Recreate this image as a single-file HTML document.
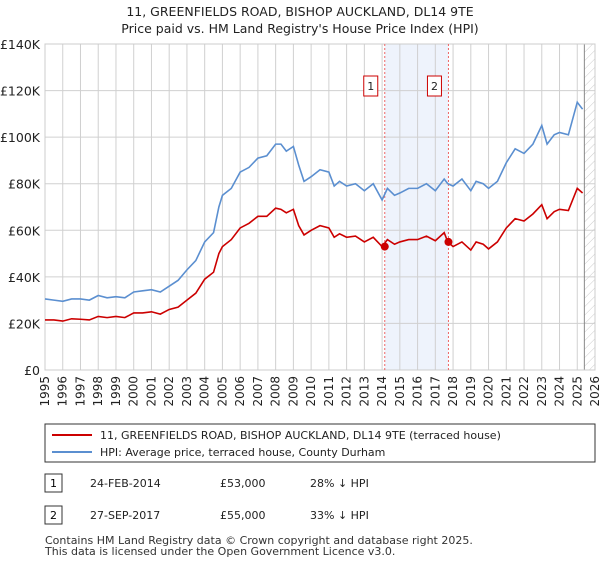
<!DOCTYPE html>
<html><head><meta charset="utf-8"><style>
body{margin:0;background:#fff;font-family:"Liberation Sans","DejaVu Sans",sans-serif;}
svg text{font-family:"DejaVu Sans","Liberation Sans",sans-serif;}
</style></head><body>
<svg id="c" width="600" height="560" xmlns="http://www.w3.org/2000/svg">
<defs><pattern id="hatch" width="6" height="6" patternUnits="userSpaceOnUse" patternTransform="rotate(45)"><line x1="0" y1="0" x2="0" y2="6" stroke="#ccc" stroke-width="1"/></pattern></defs>
<text x="300" y="16" text-anchor="middle" font-size="12.5" fill="#222">11, GREENFIELDS ROAD, BISHOP AUCKLAND, DL14 9TE</text>
<text x="300" y="33" text-anchor="middle" font-size="12.5" fill="#222">Price paid vs. HM Land Registry's House Price Index (HPI)</text>
<g id="grid"></g><g id="marks"></g><g id="axes"></g>
<rect x="45" y="424" width="550" height="38" fill="#fff" stroke="#333"/>
<line x1="52" y1="435" x2="92" y2="435" stroke="#cc0000" stroke-width="2"/>
<text x="100" y="439" font-size="11" fill="#222">11, GREENFIELDS ROAD, BISHOP AUCKLAND, DL14 9TE (terraced house)</text>
<line x1="52" y1="452" x2="92" y2="452" stroke="#5b8fd0" stroke-width="2"/>
<text x="100" y="456" font-size="11" fill="#222">HPI: Average price, terraced house, County Durham</text>
<g>
<rect x="45" y="474" width="17" height="18" fill="#fff" stroke="#333"/><text x="53.5" y="487" text-anchor="middle" font-size="11">1</text>
<text x="90" y="487" font-size="11" fill="#222">24-FEB-2014</text><text x="220" y="487" font-size="11" fill="#222">£53,000</text><text x="310" y="487" font-size="11" fill="#222">28% ↓ HPI</text></g>
<g>
<rect x="45" y="506" width="17" height="18" fill="#fff" stroke="#333"/><text x="53.5" y="519" text-anchor="middle" font-size="11">2</text>
<text x="90" y="519" font-size="11" fill="#222">27-SEP-2017</text><text x="220" y="519" font-size="11" fill="#222">£55,000</text><text x="310" y="519" font-size="11" fill="#222">33% ↓ HPI</text></g>
<text x="45" y="544" font-size="11" fill="#333">Contains HM Land Registry data © Crown copyright and database right 2025.</text>
<text x="45" y="555" font-size="11" fill="#333">This data is licensed under the Open Government Licence v3.0.</text>
</svg>
<script>
const years=[1995,1995.5,1996,1996.5,1997,1997.5,1998,1998.5,1999,1999.5,2000,2000.5,2001,2001.5,2002,2002.5,2003,2003.5,2004,2004.5,2004.8,2005,2005.5,2006,2006.5,2007,2007.5,2008,2008.3,2008.6,2009,2009.3,2009.6,2010,2010.5,2011,2011.3,2011.6,2012,2012.5,2013,2013.5,2014,2014.3,2014.7,2015,2015.5,2016,2016.5,2017,2017.5,2017.7,2018,2018.5,2019,2019.3,2019.7,2020,2020.5,2021,2021.5,2022,2022.5,2023,2023.3,2023.7,2024,2024.5,2025,2025.3];
const hpi=[30.5,30,29.5,30.5,30.5,30,32,31,31.5,31,33.5,34,34.5,33.5,36,38.5,43,47,55,59,70,75,78,85,87,91,92,97,97,94,96,88,81,83,86,85,79,81,79,80,77,80,73,78,75,76,78,78,80,77,82,80,79,82,77,81,80,78,81,89,95,93,97,105,97,101,102,101,115,112];
const price=[21.5,21.5,21,22,21.8,21.5,23,22.5,23,22.5,24.5,24.5,25,24,26,27,30,33,39,42,50,53,56,61,63,66,66,69.5,69,67.5,69,62,58,60,62,61,57,58.5,57,57.5,55,57,53,56,54,55,56,56,57.5,55.5,59,55,53,55,51.5,55,54,52,55,61,65,64,67,71,65,68,69,68.5,78,76];
const sales=[{t:2014.15,v:53,label:"1"},{t:2017.74,v:55,label:"2"}];
const yTicks=[0,20,40,60,80,100,120,140];
const xTicks=[];for(let y=1995;y<=2026;y++)xTicks.push(y);
const X0=45,X1=595,Y0=370,Y1=44;
const sx=t=>X0+(t-1995)/31*(X1-X0);
const sy=v=>Y0-v/140*(Y0-Y1);
const NS="http://www.w3.org/2000/svg";
function mk(tag,attrs,parent){const e=document.createElementNS(NS,tag);for(const k in attrs)e.setAttribute(k,attrs[k]);parent.appendChild(e);return e;}
const grid=document.getElementById('grid'),marks=document.getElementById('marks'),axes=document.getElementById('axes');
// shaded band
const band=mk('rect',{x:sx(sales[0].t),y:Y1,width:sx(sales[1].t)-sx(sales[0].t),height:Y0-Y1,fill:'#eef3fc'},grid);


xTicks.forEach(y=>{const l=mk('line',{x1:sx(y),x2:sx(y),y1:Y1,y2:Y0,stroke:'#d0d0d0'},grid);


const t=mk('text',{x:0,y:0,'font-size':12,fill:'#222','text-anchor':'end',transform:`translate(${sx(y)+4},${Y0+6}) rotate(-90)`},axes);t.textContent=y;

});
yTicks.forEach(v=>{const l=mk('line',{x1:X0,x2:X1,y1:sy(v),y2:sy(v),stroke:'#d0d0d0'},grid);


const t=mk('text',{x:40,y:sy(v)+5,'font-size':12.5,fill:'#222','text-anchor':'end'},axes);t.textContent=v===0?'£0':'£'+v+'K';

});
const h=mk('rect',{x:sx(2025.4),y:Y1,width:X1-sx(2025.4),height:Y0-Y1,fill:'url(#hatch)'},grid);


mk('line',{x1:sx(2025.4),x2:sx(2025.4),y1:Y1,y2:Y0,stroke:'#888'},grid);
mk('rect',{x:X0,y:Y1,width:X1-X0,height:Y0-Y1,fill:'none',stroke:'#ccc'},grid);
sales.forEach(s=>{const l=mk('line',{x1:sx(s.t),x2:sx(s.t),y1:Y1,y2:Y0,stroke:'#e66','stroke-dasharray':'2,2'},marks);

});
const hl=mk('polyline',{points:years.map((t,i)=>sx(t)+','+sy(hpi[i])).join(' '),fill:'none',stroke:'#5b8fd0','stroke-width':1.6},marks);


const pl=mk('polyline',{points:years.map((t,i)=>sx(t)+','+sy(price[i])).join(' '),fill:'none',stroke:'#cc0000','stroke-width':1.6},marks);


sales.forEach(s=>{const c=mk('circle',{cx:sx(s.t),cy:sy(s.v),r:4,fill:'#cc0000'},marks);


const g=mk('g',{},marks);


mk('rect',{x:sx(s.t)-21,y:76,width:14,height:20,fill:'#fff',stroke:'#cc0000'},g);
const t=mk('text',{x:sx(s.t)-14,y:90,'font-size':11,'text-anchor':'middle',fill:'#222'},g);t.textContent=s.label;});
</script>
</body></html>
